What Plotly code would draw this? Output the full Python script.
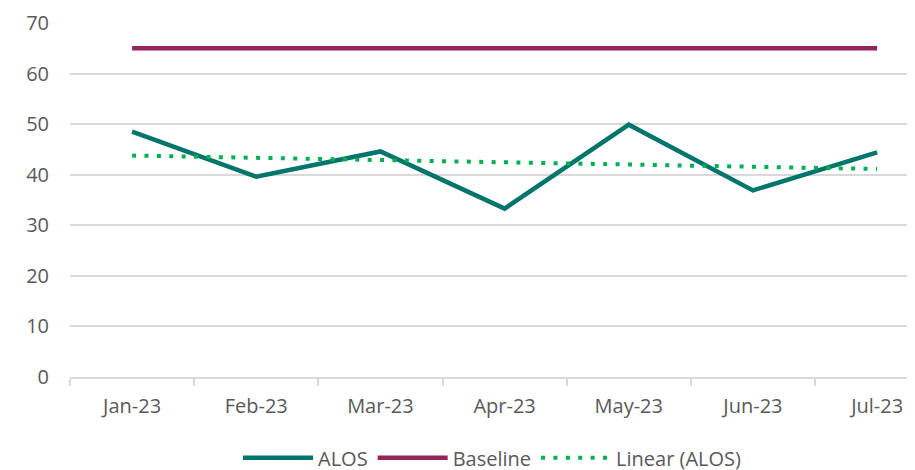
import numpy as np
import plotly.graph_objects as go

months = ["Jan-23", "Feb-23", "Mar-23", "Apr-23", "May-23", "Jun-23", "Jul-23"]
alos = [48.5, 39.6, 44.6, 33.3, 49.9, 36.9, 44.4]
baseline = [65, 65, 65, 65, 65, 65, 65]

# Linear trendline of ALOS (least squares, as in the spreadsheet trendline)
xi = np.arange(1, len(alos) + 1)
slope, intercept = np.polyfit(xi, alos, 1)
trend = list(slope * xi + intercept)

fig = go.Figure()
fig.add_trace(go.Scatter(x=months, y=alos, name="ALOS", mode="lines",
                         line=dict(color="#00756B", width=4.5)))
fig.add_trace(go.Scatter(x=months, y=baseline, name="Baseline", mode="lines",
                         line=dict(color="#962357", width=4.5)))
fig.add_trace(go.Scatter(x=months, y=trend, name="Linear (ALOS)", mode="lines",
                         line=dict(color="#00B050", width=4, dash="4px,8.4px")))

font = dict(family="Open Sans", size=20, color="#595959")
fig.update_layout(
    width=907, height=462,
    margin=dict(l=62, r=0, t=15, b=92.7, autoexpand=False),
    paper_bgcolor="white", plot_bgcolor="white",
    font=font,
    showlegend=True,
    legend=dict(orientation="h", x=0.5, xanchor="center", y=-0.228, yanchor="middle",
                font=font, tracegroupgap=0, itemwidth=70),
)
fig.update_xaxes(type="category", range=[-0.5, 6.305], tickson="boundaries",
                 ticks="outside", ticklen=7, tickcolor="#D9D9D9", tickwidth=1.5,
                 showline=True, linecolor="#D9D9D9", linewidth=1.5, automargin=False,
                 showgrid=False, ticklabelstandoff=10, tickfont=font)
fig.update_yaxes(range=[0, 70], dtick=10, showgrid=True, gridcolor="#D9D9D9",
                 gridwidth=1.5, zeroline=False, showline=False, ticks="", automargin=False,
                 ticklabelstandoff=20, tickfont=font)

fig.write_html("out.html")
